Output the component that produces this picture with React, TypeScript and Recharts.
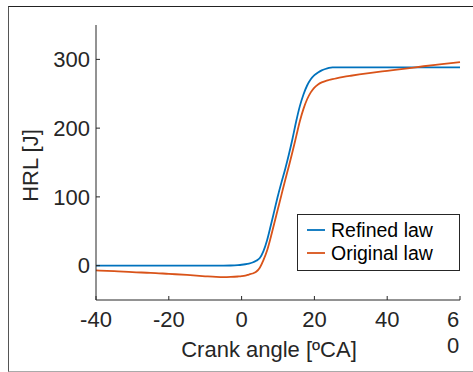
import React from 'react';
import { LineChart, Line, XAxis, YAxis, Legend } from 'recharts';

const angles = [-40, -35, -30, -25, -20, -15, -10, -7, -5, -3, -1, 0, 1, 2, 3, 4, 5, 6, 7, 8, 9, 10, 11, 12, 13, 14, 15, 16, 17, 18, 19, 20, 21, 22, 23, 24, 25, 26, 28, 30, 35, 40, 45, 50, 55, 60];
const refinedLaw = [0, 0, 0, 0, 0, 0, 0, 0, 0, 0.2, 0.8, 1.3, 2, 3, 4.5, 7, 11, 21, 37, 58, 80, 102, 122, 141, 162, 185, 210, 232, 249, 262, 271, 277, 281, 284, 286, 287.5, 288.3, 288.5, 288.5, 288.5, 288.5, 288.5, 288.5, 288.5, 288.5, 288.5];
const originalLaw = [-7, -8, -9.5, -10.5, -12, -13.5, -15.5, -16.5, -16.8, -16.5, -15.8, -15.3, -14.5, -13, -11.5, -9, -3, 8, 22, 41, 62, 83, 104, 125, 145, 166, 188, 210, 228, 242, 252, 259, 263.5, 266.5, 268.5, 270, 271.3, 272.5, 274.5, 276.2, 280, 283.3, 286.5, 290, 293, 296];
const seriesNames = ['Refined law', 'Original law'];
const seriesColors = ['#0072BD', '#D95319'];
const xTicks = [-40, -20, 0, 20, 40, 60];
const yTicks = [0, 100, 200, 300];

const data = angles.map((a, i) => ({ angle: a, refined: refinedLaw[i], original: originalLaw[i] }));

const FONT = '"Liberation Sans", Arial, sans-serif';
const INK = '#262626';

const BottomTick = (props: any) => {
  const { x, y, payload } = props;
  const s = String(payload.value);
  if (payload.value === 60) {
    // label wraps onto two lines in the original
    return (
      <text x={x - 7} y={y} fontSize={22} fontFamily={FONT} fill={INK} textAnchor="middle">
        <tspan x={x - 7} dy="0.71em">{s[0]}</tspan>
        <tspan x={x - 7} dy={26}>{s[1]}</tspan>
      </text>
    );
  }
  return (
    <text x={x} y={y} dy="0.71em" fontSize={22} fontFamily={FONT} fill={INK} textAnchor="middle">
      {s}
    </text>
  );
};

const renderLegend = (props: any) => {
  const items = [...(props.payload || [])].sort((a: any, b: any) => seriesNames.indexOf(a.value) - seriesNames.indexOf(b.value));
  return (
    <div style={{ width: 163, height: 57, boxSizing: 'border-box', border: `1px solid ${INK}`, background: '#fff', fontFamily: FONT, fontSize: 19.5, color: '#000', paddingTop: 4 }}>
      {items.map((p: any) => (
        <div key={p.value} style={{ display: 'flex', alignItems: 'center', height: 22.5, lineHeight: '22.5px' }}>
          <svg width={18} height={4} style={{ marginLeft: 9, marginRight: 6 }}>
            <line x1={0} y1={2} x2={18} y2={2} stroke={seriesColors[seriesNames.indexOf(p.value)]} strokeWidth={1.8} />
          </svg>
          <span>{p.value}</span>
        </div>
      ))}
    </div>
  );
};

const App = () => {
  return (
    <div style={{ position: 'absolute', left: 0, top: 0, width: 473, height: 372, background: '#fff' }}>
      <div style={{ position: 'absolute', left: 8, top: 6, width: 470, height: 364, borderTop: '1px solid #222', borderLeft: '1px solid #555', borderBottom: '1px solid #aaa' }} />
      <div style={{ position: 'absolute', left: 0, top: 0 }}>
        <LineChart width={473} height={372} data={data} margin={{ top: 25, right: 13, bottom: 0, left: 0 }}>
          <XAxis
            dataKey="angle"
            type="number"
            domain={[-40, 60]}
            ticks={xTicks}
            height={72}
            tickSize={-4}
            tickMargin={15}
            stroke={INK}
            tick={<BottomTick />}
            label={{
              content: (p: any) => (
                <text x={p.viewBox.x + p.viewBox.width / 2 - 9} y={357} textAnchor="middle" fontSize={22} fontFamily={FONT} fill={INK}>
                  Crank angle [ºCA]
                </text>
              ),
            }}
          />
          <XAxis xAxisId="top" orientation="top" dataKey="angle" type="number" domain={[-40, 60]} ticks={xTicks} height={0} tickSize={-4} stroke={INK} tickFormatter={() => ''} />
          <YAxis
            type="number"
            domain={[-50, 350]}
            ticks={yTicks}
            width={96}
            tickSize={-4}
            tickMargin={10}
            stroke={INK}
            tick={{ fontSize: 22, fontFamily: FONT, fill: INK }}
            label={{
              content: (p: any) => {
                const cy = p.viewBox.y + p.viewBox.height / 2 + 3;
                return (
                  <text x={37.5} y={cy} transform={`rotate(-90, 37.5, ${cy})`} textAnchor="middle" fontSize={22} fontFamily={FONT} fill={INK}>
                    HRL [J]
                  </text>
                );
              },
            }}
          />
          <YAxis yAxisId="right" orientation="right" type="number" domain={[-50, 350]} ticks={yTicks} width={0} tickSize={-4} stroke={INK} tickFormatter={() => ''} />
          <Legend
            layout="horizontal"
            verticalAlign="middle"
            align="center"
            content={renderLegend}
            wrapperStyle={{ left: 297, top: 214, width: 163, height: 57 }}
          />
          <Line type="monotone" dataKey="refined" name={seriesNames[0]} stroke={seriesColors[0]} strokeWidth={1.8} dot={false} isAnimationActive={false} />
          <Line type="monotone" dataKey="original" name={seriesNames[1]} stroke={seriesColors[1]} strokeWidth={1.8} dot={false} isAnimationActive={false} />
        </LineChart>
      </div>
    </div>
  );
};

export default App;
